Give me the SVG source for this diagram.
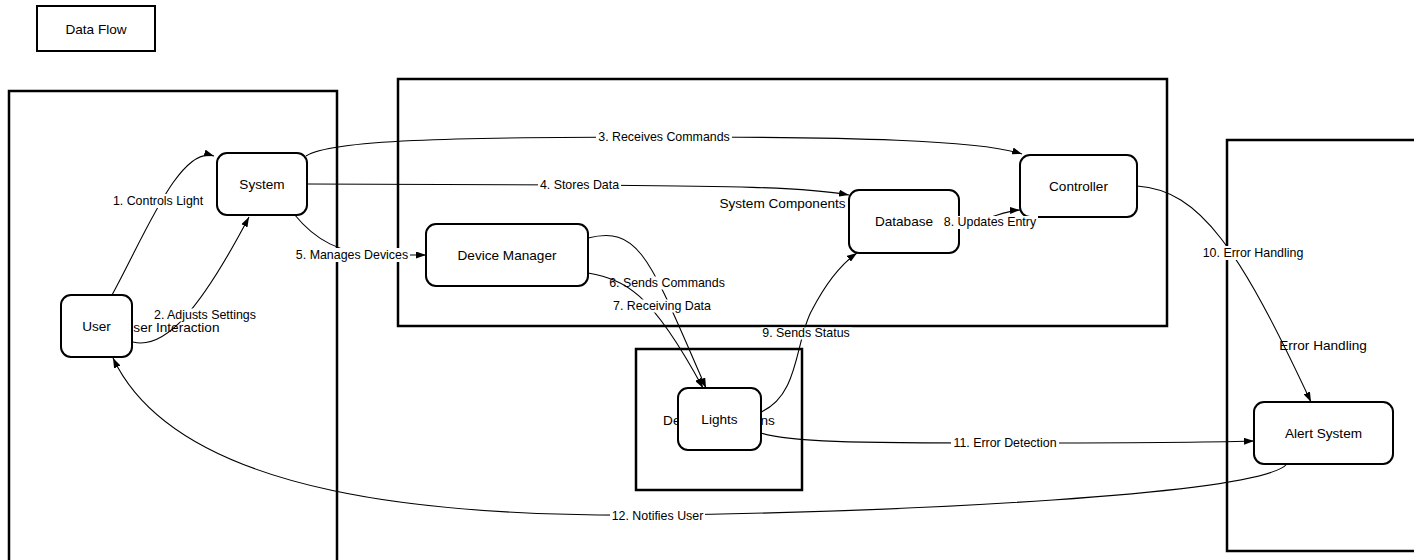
<svg xmlns="http://www.w3.org/2000/svg" width="1414" height="560" viewBox="0 0 1414 560">
<style>
.cl{fill:none;stroke:#000;stroke-width:2.5}
.cll{font-family:"Liberation Sans",Arial,sans-serif;font-size:13.6px;fill:#000;text-anchor:middle}
.nd{fill:#fff;stroke:#000;stroke-width:2}
.nt{font-family:"Liberation Sans",Arial,sans-serif;font-size:13.6px;fill:#000;text-anchor:middle}
.e{fill:none;stroke:#000;stroke-width:1.1;marker-end:url(#ah)}
.lb{fill:#fff}
.lt{font-family:"Liberation Sans",Arial,sans-serif;font-size:12.4px;fill:#000;text-anchor:middle}
</style>
<defs>
<marker id="ah" viewBox="0 0 10 7" refX="10" refY="3.5" markerWidth="10" markerHeight="7" markerUnits="userSpaceOnUse" orient="auto">
<path d="M0,0 L10,3.5 L0,7 z" fill="#000"/>
</marker>
</defs>
<rect width="1414" height="560" fill="#fff"/>

<g id="title">
<rect x="37" y="6" width="118" height="45" fill="#fff" stroke="#000" stroke-width="2"/>
<text class="nt" x="96" y="33.5">Data Flow</text>
</g>

<g id="clusters">
<g id="cluster-user-interaction">
<rect class="cl" x="9" y="91" width="328" height="480"/>
<text class="cll" x="171.5" y="332">User Interaction</text>
</g>
<g id="cluster-system-components">
<rect class="cl" x="398" y="79" width="769" height="247"/>
<text class="cll" x="782.5" y="208">System Components</text>
</g>
<g id="cluster-device-operations">
<rect class="cl" x="636" y="349" width="166" height="141"/>
<text class="cll" x="719" y="424.5">Device Operations</text>
</g>
<g id="cluster-error-handling">
<rect class="cl" x="1227" y="140" width="192" height="411"/>
<text class="cll" x="1323" y="350">Error Handling</text>
</g>
</g>

<g id="connectors">
<g id="e1">
<path class="e" d="M112 295 C145 235 180 145 214 156"/>
<rect class="lb" x="108" y="194" width="101" height="14"/>
<text class="lt" x="158" y="205.4">1. Controls Light</text>
</g>
<g id="e2">
<path class="e" d="M133 342 C165 350 200 310 249 217"/>
<rect class="lb" x="153" y="308.5" width="106" height="13"/>
<text class="lt" x="205" y="319.4">2. Adjusts Settings</text>
</g>
<g id="e3">
<path class="e" d="M306 156 C330 140 450 137 664 137 C850 137 980 140 1022 154"/>
<rect class="lb" x="596" y="130" width="136" height="14"/>
<text class="lt" x="664" y="141.4">3. Receives Commands</text>
</g>
<g id="e4">
<path class="e" d="M307 184 L580 185 C700 186 800 186 849 195"/>
<rect class="lb" x="538" y="178" width="83" height="14"/>
<text class="lt" x="579.5" y="189.4">4. Stores Data</text>
</g>
<g id="e5">
<path class="e" d="M294 214 C315 240 340 254 380 255 L426 255"/>
<rect class="lb" x="294" y="248" width="116" height="14"/>
<text class="lt" x="352" y="259.4">5. Manages Devices</text>
</g>
<g id="e6">
<path class="e" d="M588 238 C640 225 650 260 706 388"/>
<rect class="lb" x="608" y="276.5" width="119" height="13"/>
<text class="lt" x="667" y="287.4">6. Sends Commands</text>
</g>
<g id="e7">
<path class="e" d="M588 273 C625 280 650 290 703 388"/>
<rect class="lb" x="612" y="299.5" width="101" height="13"/>
<text class="lt" x="662" y="310.4">7. Receiving Data</text>
</g>
<g id="e8">
<path class="e" d="M959 222 C990 222 1000 211 1020 210"/>
</g>
<g id="e9">
<path class="e" d="M761 412 C800 395 795 340 812 310 C825 285 840 265 857 253"/>
<rect class="lb" x="761" y="327.5" width="91" height="12"/>
<text class="lt" x="806" y="337.4">9. Sends Status</text>
</g>
<g id="e10">
<path class="e" d="M1137 186 C1200 190 1240 250 1311 402"/>
<rect class="lb" x="1201" y="246" width="104" height="14"/>
<text class="lt" x="1253" y="257.4">10. Error Handling</text>
</g>
<g id="e11">
<path class="e" d="M761 433 C790 442 850 443 1005 443 C1150 443 1220 442 1254 441"/>
<rect class="lb" x="951" y="436" width="108" height="14"/>
<text class="lt" x="1005" y="447.4">11. Error Detection</text>
</g>
<g id="e12">
<path class="e" d="M1287 464 C1260 495 900 512 657 515 C450 517 180 500 113 358"/>
<rect class="lb" x="610" y="509" width="95" height="14"/>
<text class="lt" x="657.5" y="520.4">12. Notifies User</text>
</g>
</g>

<g id="node-system">
<rect class="nd" x="217" y="153" width="90" height="62" rx="10"/>
<text class="nt" x="262" y="188.9">System</text>
</g>
<g id="node-user">
<rect class="nd" x="61" y="295" width="71" height="62" rx="10"/>
<text class="nt" x="96.5" y="330.9">User</text>
</g>
<g id="node-device-manager">
<rect class="nd" x="426" y="224" width="162" height="62" rx="10"/>
<text class="nt" x="507" y="259.9">Device Manager</text>
</g>
<g id="node-database">
<rect class="nd" x="849" y="190" width="110" height="63" rx="10"/>
<text class="nt" x="904" y="226.4">Database</text>
</g>
<g id="node-controller">
<rect class="nd" x="1020" y="155" width="117" height="62" rx="10"/>
<text class="nt" x="1078.5" y="190.9">Controller</text>
</g>
<g id="node-lights">
<rect class="nd" x="678" y="388" width="83" height="62" rx="10"/>
<text class="nt" x="719.5" y="423.9">Lights</text>
</g>
<g id="node-alert-system">
<rect class="nd" x="1254" y="402" width="139" height="62" rx="10"/>
<text class="nt" x="1323.5" y="437.9">Alert System</text>
</g>

<g id="e8-label">
<rect class="lb" x="943" y="216" width="95" height="13"/>
<text class="lt" x="990" y="226.4">8. Updates Entry</text>
</g>
</svg>
